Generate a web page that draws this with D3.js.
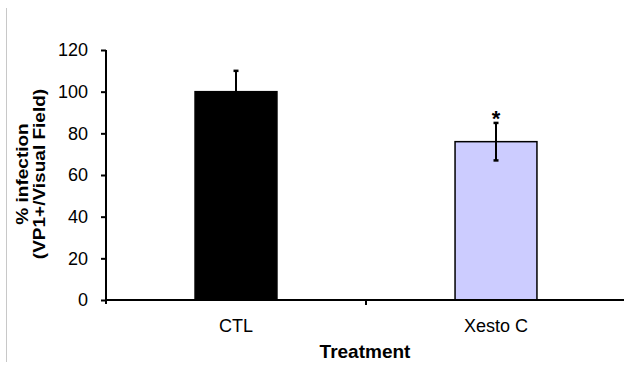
<!DOCTYPE html>
<html>
<head>
<meta charset="utf-8">
<script src="https://cdn.jsdelivr.net/npm/d3@7"></script>
<style>
  html, body { margin: 0; padding: 0; background: #fff; }
  svg { display: block; font-family: "Liberation Sans", Arial, sans-serif; }
</style>
</head>
<body>
<svg id="chart" width="624" height="371"></svg>
<script>
// Infection rate per treatment, mean and error
const categories = ["CTL", "Xesto C"];
const means = [100, 76];
const errors = [10, 9];
const barColors = ["#000000", "#ccccff"];
const significance = ["", "*"];
const yTicks = [0, 20, 40, 60, 80, 100, 120];

const svg = d3.select("#chart");

// frame line along the left edge
svg.append("line")
  .attr("x1", 6.5).attr("x2", 6.5)
  .attr("y1", 8).attr("y2", 362)
  .attr("stroke", "#c8c8c8").attr("stroke-width", 1);

const plotL = 106, plotR = 626, plotT = 50, plotB = 300;

const x = d3.scaleBand().domain(categories).range([plotL, plotR]).paddingInner(0).paddingOuter(0);
const y = d3.scaleLinear().domain([0, 120]).range([plotB, plotT]);
const barW = x.bandwidth() * 0.315;

// y axis
const yAxis = svg.append("g")
  .attr("transform", `translate(${plotL},0)`)
  .call(d3.axisLeft(y).tickValues(yTicks).tickSize(5).tickPadding(13).tickFormat(d3.format("d")));
yAxis.select(".domain").attr("stroke-width", 2).attr("d", `M0,${plotT}V${plotB + 4}`);
yAxis.selectAll(".tick line").attr("stroke-width", 2);
yAxis.selectAll(".tick text").attr("font-size", 18).attr("fill", "#000");

// bars
const data = categories.map((c, i) => ({ c, m: means[i], e: errors[i], fill: barColors[i], sig: significance[i] }));

svg.selectAll("rect.bar").data(data).join("rect")
  .attr("class", "bar")
  .attr("x", d => x(d.c) + (x.bandwidth() - barW) / 2)
  .attr("y", d => y(d.m))
  .attr("width", barW)
  .attr("height", d => y(0) - y(d.m))
  .attr("fill", d => d.fill)
  .attr("stroke", "#000").attr("stroke-width", 1.5);

// error bars
const eb = svg.selectAll("g.err").data(data).join("g").attr("class", "err");
const cx = d => x(d.c) + x.bandwidth() / 2;
eb.append("line")
  .attr("x1", cx).attr("x2", cx)
  .attr("y1", d => y(d.m + d.e)).attr("y2", d => y(d.m - d.e))
  .attr("stroke", "#000").attr("stroke-width", 2);
eb.append("line")
  .attr("x1", d => cx(d) - 2.5).attr("x2", d => cx(d) + 2.5)
  .attr("y1", d => y(d.m + d.e)).attr("y2", d => y(d.m + d.e))
  .attr("stroke", "#000").attr("stroke-width", 2.5);
eb.append("line")
  .attr("x1", d => cx(d) - 2.5).attr("x2", d => cx(d) + 2.5)
  .attr("y1", d => y(d.m - d.e)).attr("y2", d => y(d.m - d.e))
  .attr("stroke", "#000").attr("stroke-width", 2.5);

// significance markers
svg.selectAll("text.sig").data(data.filter(d => d.sig)).join("text")
  .attr("class", "sig")
  .attr("x", cx)
  .attr("y", d => y(d.m + d.e) + 3)
  .attr("text-anchor", "middle")
  .attr("font-size", 22).attr("font-weight", "bold")
  .text(d => d.sig);

// x axis
const xAxis = svg.append("g")
  .attr("transform", `translate(0,${plotB})`)
  .call(d3.axisBottom(x).tickSize(0).tickPadding(19));
xAxis.select(".domain").attr("stroke-width", 2).attr("d", `M${plotL - 1},0H${plotR}`);
xAxis.selectAll(".tick text").attr("font-size", 18).attr("fill", "#000");
// separators between categories
svg.append("g").selectAll("line").data([categories[1]]).join("line")
  .attr("x1", d => x(d)).attr("x2", d => x(d))
  .attr("y1", plotB).attr("y2", plotB + 5)
  .attr("stroke", "#000").attr("stroke-width", 2);

// axis titles
svg.append("text")
  .attr("x", 365).attr("y", 358)
  .attr("text-anchor", "middle")
  .attr("font-size", 19).attr("font-weight", "bold")
  .text("Treatment");

const yt = svg.append("text")
  .attr("transform", `translate(0,${(plotT + plotB) / 2 - 1}) rotate(-90) scale(1.12,1)`)
  .attr("text-anchor", "middle")
  .attr("font-size", 17).attr("font-weight", "bold");
yt.append("tspan").attr("x", 0).attr("y", 28).text("% infection");
yt.append("tspan").attr("x", 0).attr("y", 45).text("(VP1+/Visual Field)");
</script>
</body>
</html>
